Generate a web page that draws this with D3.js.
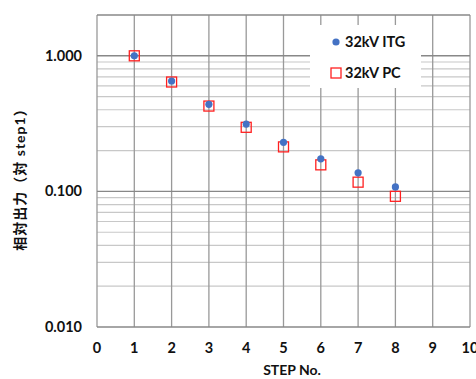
<!DOCTYPE html>
<html>
<head>
<meta charset="utf-8">
<script src="https://cdn.jsdelivr.net/npm/d3@7"></script>
<style>
  body { margin: 0; background: #fff; }
  text { font-family: Lato, "Noto Sans CJK JP", sans-serif; font-weight: bold; fill: #111; }
</style>
</head>
<body>
<svg id="chart" width="476" height="379"></svg>
<script>
// Data
const steps = [1, 2, 3, 4, 5, 6, 7, 8];
const itg = [1.0, 0.652, 0.439, 0.314, 0.230, 0.174, 0.137, 0.108];
const pc = [1.0, 0.641, 0.426, 0.297, 0.213, 0.157, 0.117, 0.092];
const xTicks = [0, 1, 2, 3, 4, 5, 6, 7, 8, 9, 10];
const yTicks = [0.01, 0.1, 1];

const width = 476, height = 379;
const margin = { top: 15, right: 6, bottom: 52, left: 97 };
const svg = d3.select("#chart");

const x = d3.scaleLinear()
  .domain([0, 10])
  .range([margin.left, width - margin.right]);

const y = d3.scaleLog()
  .domain([0.01, 2])
  .range([height - margin.bottom, margin.top]);

// minor gridlines (2..9 of each decade)
const minor = [];
[0.01, 0.1, 1].forEach(d => {
  for (let k = 2; k <= 9; k++) if (d * k < 2) minor.push(d * k);
});

svg.append("g")
  .selectAll("line")
  .data(minor)
  .enter()
  .append("line")
  .attr("x1", x(0)).attr("x2", x(10))
  .attr("y1", d => y(d)).attr("y2", d => y(d))
  .attr("stroke", "#c8c8c8")
  .attr("stroke-width", 1.2);

// vertical gridlines
svg.append("g")
  .selectAll("line")
  .data(xTicks)
  .enter()
  .append("line")
  .attr("x1", d => x(d)).attr("x2", d => x(d))
  .attr("y1", y(2)).attr("y2", y(0.01))
  .attr("stroke", "#999")
  .attr("stroke-width", 1.3);

// major gridlines
svg.append("g")
  .selectAll("line")
  .data(yTicks.concat([2]))
  .enter()
  .append("line")
  .attr("x1", x(0)).attr("x2", x(10))
  .attr("y1", d => y(d)).attr("y2", d => y(d))
  .attr("stroke", "#888")
  .attr("stroke-width", 1.4);

// legend background
const lg = svg.append("g");
lg.append("rect")
  .attr("x", 310).attr("y", 25)
  .attr("width", 111).attr("height", 63)
  .attr("fill", "#fff");

// tick labels
svg.append("g")
  .selectAll("text")
  .data(yTicks)
  .enter()
  .append("text")
  .attr("x", x(0) - 15)
  .attr("y", d => y(d))
  .attr("dy", "0.35em")
  .attr("text-anchor", "end")
  .attr("font-size", 14.5)
  .text(d => d3.format(".3f")(d));

svg.append("g")
  .selectAll("text")
  .data(xTicks)
  .enter()
  .append("text")
  .attr("x", d => x(d))
  .attr("y", height - margin.bottom + 21)
  .attr("dy", "0.35em")
  .attr("text-anchor", "middle")
  .attr("font-size", 14.5)
  .text(d => d);

// points
const itgData = steps.map((s, i) => ({ step: s, v: itg[i] }));
const pcData = steps.map((s, i) => ({ step: s, v: pc[i] }));

svg.append("g")
  .selectAll("rect")
  .data(pcData)
  .enter()
  .append("rect")
  .attr("x", d => x(d.step) - 5)
  .attr("y", d => y(d.v) - 5)
  .attr("width", 10).attr("height", 10)
  .attr("fill", "none")
  .attr("stroke", "#ff2020")
  .attr("stroke-width", 1.3);

svg.append("g")
  .selectAll("circle")
  .data(itgData)
  .enter()
  .append("circle")
  .attr("cx", d => x(d.step))
  .attr("cy", d => y(d.v))
  .attr("r", 3.6)
  .attr("fill", "#4472c4");

// legend
lg.append("circle")
  .attr("cx", 336).attr("cy", 42).attr("r", 3.6)
  .attr("fill", "#4472c4");
lg.append("text")
  .attr("x", 345).attr("y", 42).attr("dy", "0.35em")
  .attr("font-size", 14.5)
  .text("32kV ITG");
lg.append("rect")
  .attr("x", 331).attr("y", 68).attr("width", 10).attr("height", 10)
  .attr("fill", "none").attr("stroke", "#ff2020").attr("stroke-width", 1.3);
lg.append("text")
  .attr("x", 345).attr("y", 73).attr("dy", "0.35em")
  .attr("font-size", 14.5)
  .text("32kV PC");

// axis titles
svg.append("text")
  .attr("x", 292).attr("y", 370)
  .attr("dy", "0.35em")
  .attr("text-anchor", "middle")
  .attr("font-size", 14)
  .text("STEP No.");

svg.append("text")
  .attr("transform", "translate(20,176) rotate(-90)")
  .attr("dy", "0.35em")
  .attr("text-anchor", "middle")
  .attr("font-size", 14)
  .attr("letter-spacing", 1)
  .text("相対出力（対 step1）");
</script>
</body>
</html>
